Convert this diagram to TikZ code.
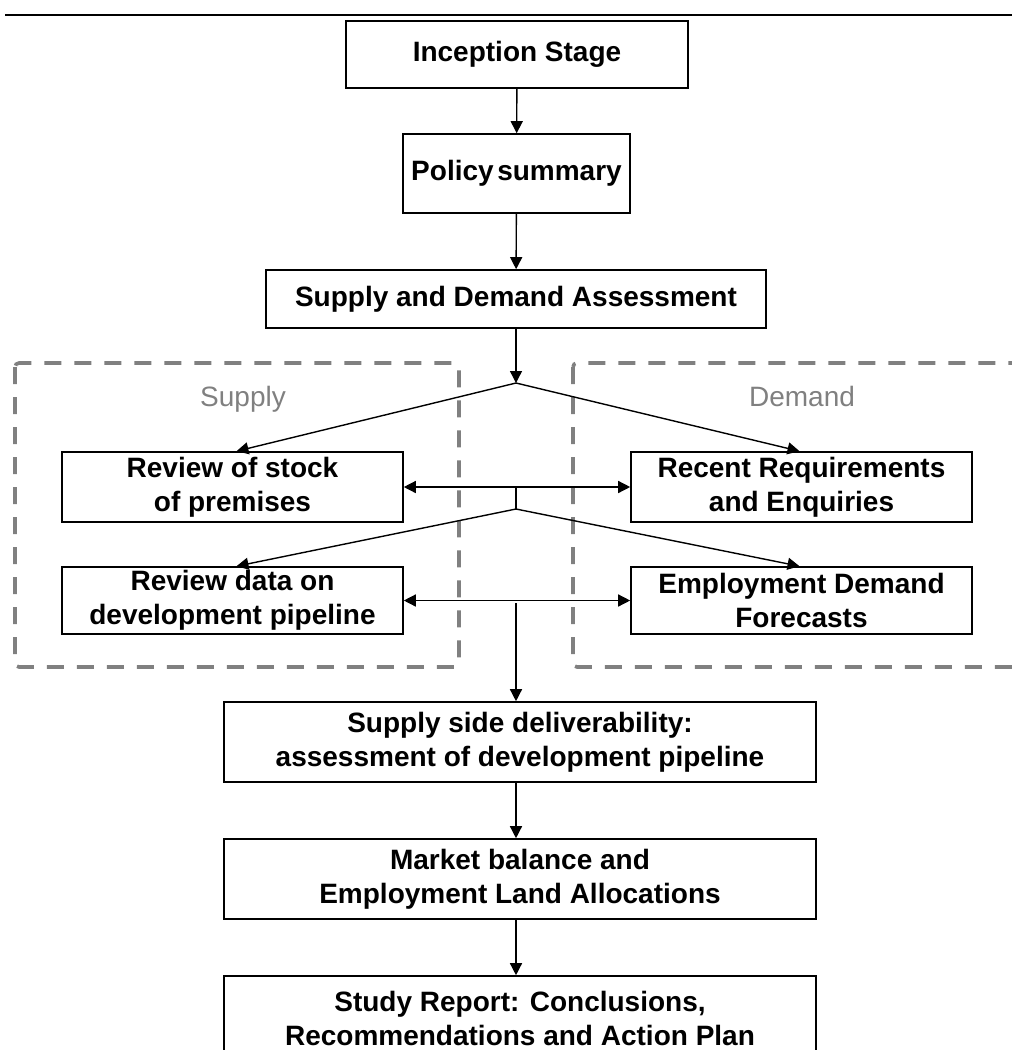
\documentclass[tikz,border=0pt]{standalone}
\usepackage{fontspec}
\setmainfont{Liberation Sans}
\usetikzlibrary{
	arrows.meta,
	calc,
	positioning
}
\definecolor{groupgray}{RGB}{128,128,128}
\tikzset{
	FC-Node/.style={rectangle,draw,line width=0.8pt,align=center,inner sep=0pt,font=\fontsize{14pt}{17pt}\selectfont\bfseries},
	FC-Arrow/.style={-{Triangle[length=6pt,width=6pt]},line width=0.7pt},
	FC-Both/.style={{Triangle[length=6pt,width=6pt]}-{Triangle[length=6pt,width=6pt]},line width=0.7pt},
	FC-Group/.style={draw=groupgray,line width=1.8pt,dash pattern=on 8.5pt off 6.5pt,rounded corners=2pt},
	FC-Title/.style={text=groupgray,anchor=base,font=\fontsize{14pt}{17pt}\selectfont}
}

\begin{document}
\begin{tikzpicture}[x=0.5pt,y=-0.5pt]
	\clip (0,0) rectangle (1012,1050);
	% rule at the top of the page
	\draw[line width=1pt] (5,15) -- (1012,15);
	% Supply and Demand groups
	\draw[FC-Group] (15,363) rectangle (459,667);
	\draw[FC-Group] (573,363) rectangle (1100,667);
	\node[FC-Title] (supply) at (243,406) {Supply};
	\node[FC-Title] (demand) at (802,406) {Demand};
	% main column
	\node[FC-Node,minimum width=171pt,minimum height=33.5pt] (incep) at (517,54.5) {Inception Stage};
	\node[FC-Node,minimum width=113.5pt,minimum height=39.5pt] (policy) at (516.5,173.5) {Policy\hspace{-0.15em} summary};
	\node[FC-Node,minimum width=250pt,minimum height=29pt] (sda) at (516,299) {Supply and Demand Assessment};
	% inner boxes
	\node[FC-Node,minimum width=170.5pt,minimum height=35pt] (stock) at (232.5,487) {Review of stock\\of premises};
	\node[FC-Node,minimum width=170.5pt,minimum height=35pt] (recent) at (801.5,487) {Recent Requirements\\and Enquiries};
	\node[FC-Node,minimum width=170.5pt,minimum height=33.5pt] (pipe) at (232.5,600.5) {Review data on\\development pipeline};
	\node[FC-Node,minimum width=170.5pt,minimum height=33.5pt] (forecast) at (801.5,600.5) {Employment Demand\\Forecasts};
	% lower column
	\node[FC-Node,minimum width=296pt,minimum height=40pt] (deliv) at (520,742) {Supply side deliverability:\\assessment of development pipeline};
	\node[FC-Node,minimum width=296pt,minimum height=40pt] (market) at (520,879) {Market balance and\\Employment Land Allocations};
	\node[FC-Node,minimum width=296pt,minimum height=42pt] (report) at (520,1018) {Study Report: Conclusions,\\Recommendations and Action Plan};
	% branch points
	\coordinate (split1) at (516,383);
	\coordinate (mid1) at (516,487);
	\coordinate (split2) at (516,509);
	\coordinate (mid2) at (516,603);
	\draw[FC-Arrow] (incep) -- (policy);
	\draw[FC-Arrow] (policy) -- (sda);
	\draw[FC-Arrow] (sda.south -| split1) -- (split1);
	\draw[FC-Arrow] (split1) -- ($(stock.north)+(4,0)$);
	\draw[FC-Arrow] (split1) -- ($(recent.north)+(-2,0)$);
	\draw[FC-Both] (stock.east) -- (recent.west);
	\draw[line width=0.7pt] (mid1) -- (split2);
	\draw[FC-Arrow] (split2) -- ($(pipe.north)+(4,0)$);
	\draw[FC-Arrow] (split2) -- ($(forecast.north)+(-2,0)$);
	\draw[FC-Both] (pipe.east) -- (forecast.west);
	\draw[FC-Arrow] (mid2) -- (mid2 |- deliv.north);
	\draw[FC-Arrow] (deliv.south -| mid2) -- (mid2 |- market.north);
	\draw[FC-Arrow] (market.south -| mid2) -- (mid2 |- report.north);
\end{tikzpicture}
\end{document}
